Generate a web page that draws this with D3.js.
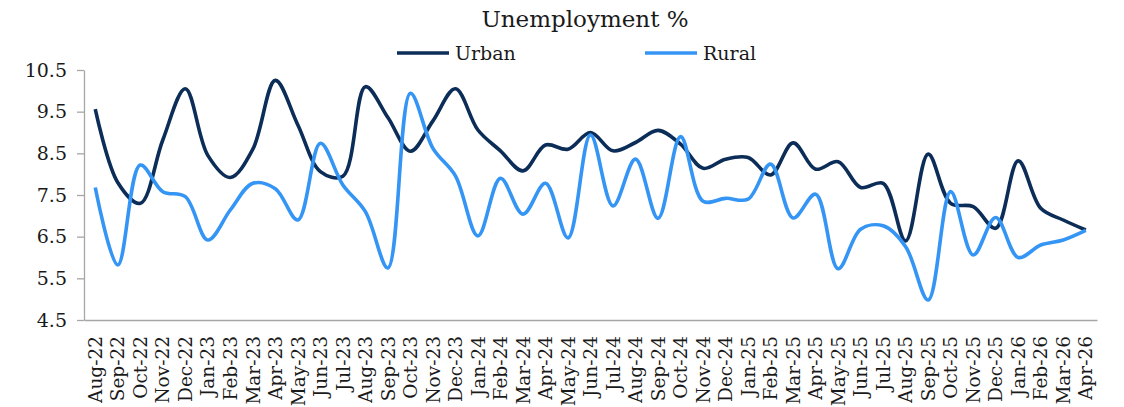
<!DOCTYPE html>
<html><head><meta charset="utf-8">
<script src="https://cdn.jsdelivr.net/npm/d3@7"></script>
<style>body{margin:0;background:#fff}svg{display:block}text{font-family:"DejaVu Serif",serif;fill:#1a1a1a}</style>
</head><body><svg id="c" width="1124" height="407"></svg>
<script>
const months = ["Aug-22","Sep-22","Oct-22","Nov-22","Dec-22","Jan-23","Feb-23","Mar-23","Apr-23","May-23","Jun-23","Jul-23","Aug-23","Sep-23","Oct-23","Nov-23","Dec-23","Jan-24","Feb-24","Mar-24","Apr-24","May-24","Jun-24","Jul-24","Aug-24","Sep-24","Oct-24","Nov-24","Dec-24","Jan-25","Feb-25","Mar-25","Apr-25","May-25","Jun-25","Jul-25","Aug-25","Sep-25","Oct-25","Nov-25","Dec-25","Jan-26","Feb-26","Mar-26","Apr-26"];
const urban = [9.56,7.8,7.3,8.82,10.05,8.45,7.92,8.6,10.25,9.18,8.06,7.95,10.1,9.36,8.55,9.28,10.05,9.06,8.56,8.08,8.7,8.6,9.0,8.56,8.76,9.05,8.72,8.14,8.36,8.4,7.98,8.75,8.12,8.3,7.68,7.78,6.4,8.48,7.3,7.22,6.7,8.32,7.18,6.9,6.66];
const rural = [7.68,5.82,8.22,7.58,7.46,6.42,7.14,7.78,7.65,6.9,8.74,7.74,7.1,5.75,9.94,8.62,7.96,6.52,7.9,7.04,7.78,6.47,8.94,7.24,8.36,6.94,8.9,7.35,7.42,7.4,8.24,6.95,7.52,5.73,6.68,6.76,6.26,4.98,7.58,6.06,6.96,6.0,6.3,6.42,6.65];
const yTicks = [4.5,5.5,6.5,7.5,8.5,9.5,10.5];
const seriesNames = ["Urban","Rural"];
const colors = ["#0b2d57","#3595f5"];

const svg = d3.select("#c");
const L = 84, R = 1097, T = 70, B = 320;
const x = d3.scaleBand().domain(months).range([L, R]);
const y = d3.scaleLinear().domain([4.5, 10.5]).range([B, T]);
const cx = m => x(m) + x.bandwidth()/2;

// y axis
const ya = svg.append("g").attr("transform", `translate(${L},0)`)
  .call(d3.axisLeft(y).tickValues(yTicks).tickFormat(d3.format(".1f")).tickSize(7).tickSizeOuter(0));
ya.select(".domain").attr("stroke", "#a6a6a6").attr("stroke-width", 1.3);
ya.selectAll(".tick line").attr("stroke", "#a6a6a6").attr("stroke-width", 1.3);
ya.selectAll(".tick text").attr("x", -17).style("font-size", "19px").attr("fill", "#1a1a1a")
  .style("font-family", "DejaVu Serif");

// x axis
const xa = svg.append("g").attr("transform", `translate(0,${B})`)
  .call(d3.axisBottom(x).tickSize(0).tickSizeOuter(0));
xa.select(".domain").attr("stroke", "#a6a6a6").attr("stroke-width", 1.5);
xa.selectAll(".tick text")
  .attr("transform", "rotate(-90)")
  .attr("text-anchor", "end")
  .attr("x", -16).attr("y", 0).attr("dy", "0.36em")
  .style("font-size", "18.5px").attr("fill", "#1a1a1a").style("font-family", "DejaVu Serif");

// lines
const line = d3.line().x((d,i) => cx(months[i])).y(d => y(d)).curve(d3.curveCatmullRom.alpha(0.5));
[urban, rural].forEach((s, k) => {
  svg.append("path").datum(s).attr("d", line).attr("fill", "none")
    .attr("stroke", colors[k]).attr("stroke-width", 3.6).attr("stroke-linejoin", "round");
});

// title
svg.append("text").attr("x", 585).attr("y", 27).attr("text-anchor", "middle")
  .style("font-size", "23px").text("Unemployment %");

// legend
const legX = [397, 645];
seriesNames.forEach((n, k) => {
  svg.append("line").attr("x1", legX[k]).attr("x2", legX[k] + 52).attr("y1", 53).attr("y2", 53)
    .attr("stroke", colors[k]).attr("stroke-width", 3.6);
  svg.append("text").attr("x", legX[k] + 58).attr("y", 60).style("font-size", "19px").text(n);
});
</script></body></html>
